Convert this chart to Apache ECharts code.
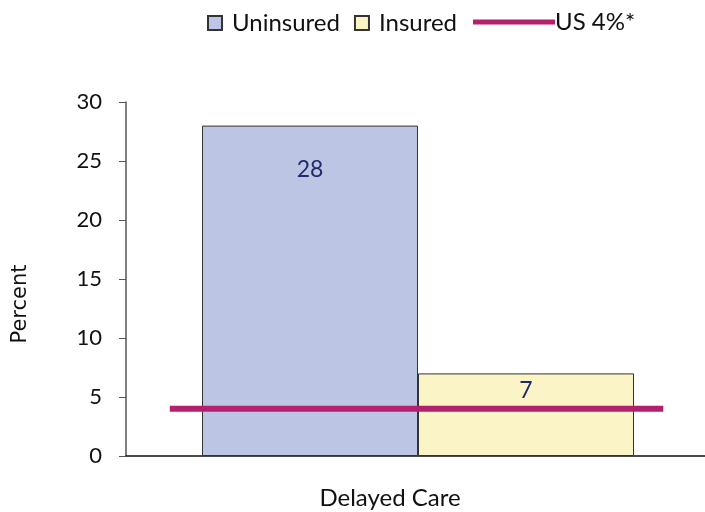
<!DOCTYPE html>
<html>
<head>
<meta charset="utf-8">
<script src="https://cdn.jsdelivr.net/npm/echarts@6/dist/echarts.min.js"></script>
<style>
  html, body { margin: 0; padding: 0; background: #fff; }
  #chart { width: 705px; height: 512px; }
</style>
</head>
<body>
<div id="chart"></div>
<script>
// chart data
const categories = ['Delayed Care'];
const uninsured = [28];
const insured = [7];
const usRate = 4;
const yTicks = [0, 5, 10, 15, 20, 25, 30];

const FONT = 'Lato, "Open Sans", sans-serif';

const chart = echarts.init(document.getElementById('chart'));

const option = {
    animation: false,
    backgroundColor: '#fff',
    textStyle: { fontFamily: FONT },
    legend: [
        {
            data: ['Uninsured', 'Insured'],
            left: 207, top: 11, padding: 0,
            itemWidth: 14, itemHeight: 14, itemGap: 14,
            icon: 'rect',
            textStyle: { fontSize: 24, color: '#111', fontFamily: FONT, padding: [0, 0, 0, 5] }
        },
        {
            data: ['US 4%*'],
            left: 473, top: 10, padding: 0,
            itemWidth: 82, itemHeight: 5, itemGap: 0,
            icon: 'rect',
            textStyle: { fontSize: 24, color: '#111', fontFamily: FONT, padding: [0, 0, 0, -5] }
        }
    ],
    graphic: [
        {
            type: 'text',
            x: 21, y: 304,
            rotation: Math.PI / 2,
            style: {
                text: 'Percent',
                font: '21px "DejaVu Sans", sans-serif',
                fill: '#111',
                align: 'center',
                verticalAlign: 'middle'
            }
        }
    ],
    grid: { left: 126, right: -5, top: 102, bottom: 56, outerBoundsMode: 'none' },
    xAxis: [
        {
            type: 'category',
            data: categories,
            axisLine: { lineStyle: { color: '#111', width: 1.5 } },
            axisTick: { show: false },
            axisLabel: { margin: 30, fontSize: 24, color: '#111', fontFamily: FONT, padding: [0, 56, 0, 0] }
        },
        {
            type: 'value', min: 0, max: 1, show: false
        }
    ],
    yAxis: {
        type: 'value',
        min: yTicks[0], max: yTicks[yTicks.length - 1], interval: 5,
        axisLine: { show: true, lineStyle: { color: '#555', width: 1.5 } },
        axisTick: { show: true, inside: false, length: 7, lineStyle: { color: '#555' } },
        axisLabel: { fontSize: 22, color: '#111', margin: 24, fontFamily: FONT },
        splitLine: { show: false }
    },
    series: [
        {
            name: 'Uninsured',
            type: 'bar',
            data: uninsured.map(v => ({ value: v, label: { distance: 32 } })),
            barWidth: 216,
            barGap: '0%',
            itemStyle: { color: '#BCC5E3', borderColor: '#333', borderWidth: 1 },
            label: { show: true, position: 'insideTop', fontSize: 23, color: '#232A6B', fontFamily: FONT }
        },
        {
            name: 'Insured',
            type: 'bar',
            data: insured.map(v => ({ value: v, label: { distance: 6 } })),
            barWidth: 216,
            barGap: '0%',
            itemStyle: { color: '#FAF4C6', borderColor: '#333', borderWidth: 1 },
            label: { show: true, position: 'insideTop', fontSize: 23, color: '#232A6B', fontFamily: FONT }
        },
        {
            name: 'US 4%*',
            type: 'line',
            xAxisIndex: 1,
            data: [[0.075, usRate], [0.92, usRate]],
            symbol: 'none',
            z: 5,
            lineStyle: { color: '#B5206E', width: 6 },
            itemStyle: { color: '#B5206E' }
        }
    ]
};

chart.setOption(option);
</script>
</body>
</html>
